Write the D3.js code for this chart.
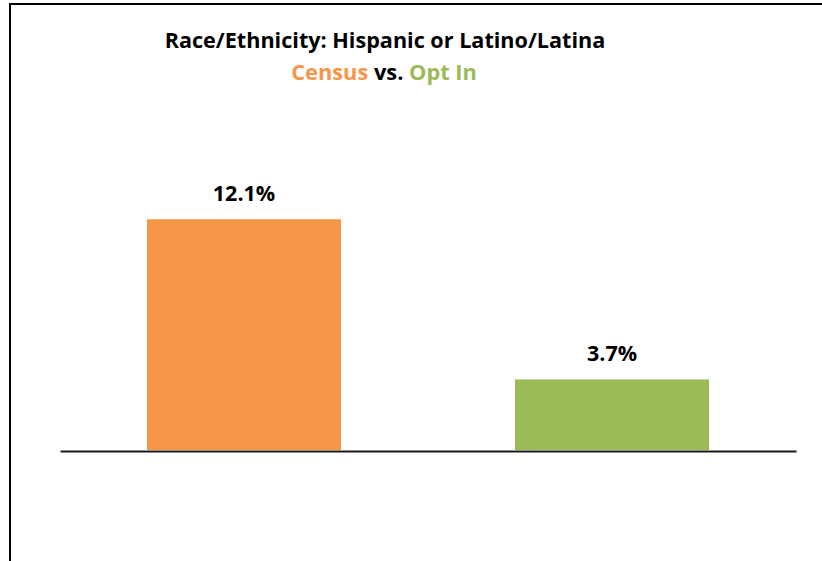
<!DOCTYPE html>
<html><head><meta charset="utf-8">
<script src="https://cdn.jsdelivr.net/npm/d3@7"></script>
<style>html,body{margin:0;padding:0;background:#fff;overflow:hidden}</style>
</head><body>
<script>
const categories = ["Census", "Opt In"];
const values = [12.1, 3.7];
const valueLabels = ["12.1%", "3.7%"];
const colors = ["#F79646", "#9BBB59"];
const titleLine1 = "Race/Ethnicity: Hispanic or Latino/Latina";

const W = 822, H = 561;
const svg = d3.select("body").append("svg").attr("width", W).attr("height", H);
const font = "'Open Sans', Lato, sans-serif";

// outer border (extends beyond window at right and bottom)
svg.append("rect").attr("x", 10).attr("y", 4).attr("width", 900).attr("height", 700)
  .attr("fill", "none").attr("stroke", "#000").attr("stroke-width", 2);

const x = d3.scaleBand().domain(categories).range([60, 796])
  .paddingInner(0.4728).paddingOuter(0.2364);
const y = d3.scaleLinear().domain([0, 14]).range([450, 450 - 14 * 19.07]);

svg.selectAll("rect.bar").data(values).enter().append("rect").attr("class", "bar")
  .attr("x", (d, i) => x(categories[i]))
  .attr("width", x.bandwidth())
  .attr("y", d => y(d))
  .attr("height", d => y(0) - y(d))
  .attr("fill", (d, i) => colors[i]);

svg.selectAll("text.lbl").data(values).enter().append("text").attr("class", "lbl")
  .attr("x", (d, i) => x(categories[i]) + x.bandwidth() / 2)
  .attr("y", d => y(d) - 18.5)
  .attr("text-anchor", "middle")
  .attr("font-family", font).attr("font-weight", "bold").attr("font-size", 21.5)
  .attr("fill", "#000")
  .text((d, i) => valueLabels[i]);

// axis line
const axis = svg.append("g").attr("transform", `translate(0,${y(0)})`)
  .call(d3.axisBottom(x).tickSize(0).tickFormat(""));
axis.select(".domain").attr("stroke", "#1a1a1a").attr("stroke-width", 2)
  .attr("transform", "translate(0,1)");

// titles
svg.append("text").attr("x", 385).attr("y", 47.5).attr("text-anchor", "middle")
  .attr("font-family", font).attr("font-weight", "bold").attr("font-size", 21.6)
  .attr("fill", "#000").text(titleLine1);

const t2 = svg.append("text").attr("x", 384).attr("y", 80).attr("text-anchor", "middle")
  .attr("font-family", font).attr("font-weight", "bold").attr("font-size", 21.8);
t2.append("tspan").attr("fill", colors[0]).text(categories[0]);
t2.append("tspan").attr("fill", "#000").text(" vs. ");
t2.append("tspan").attr("fill", colors[1]).text(categories[1]);
</script>
</body></html>
